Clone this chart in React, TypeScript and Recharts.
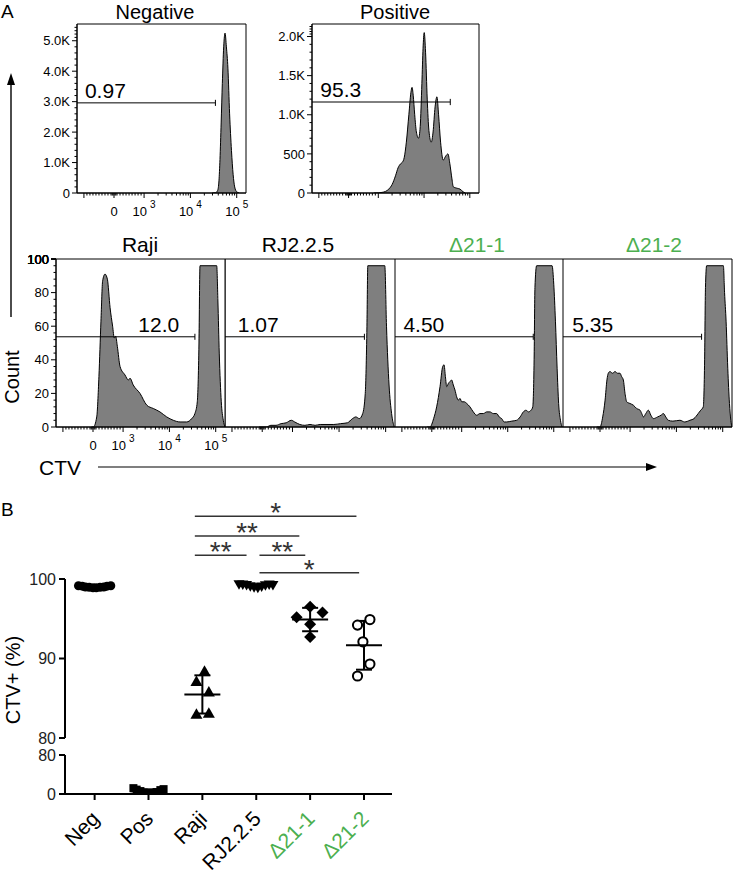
import React from 'react';
import {
  AreaChart, Area, XAxis, YAxis, ReferenceLine, ReferenceArea,
  ScatterChart, Scatter, ErrorBar,
} from 'recharts';

const FONT = '"Liberation Sans", Arial, Helvetica, sans-serif';
const GREEN = '#4caf50';
const FILL = '#7f7f7f';

// ---------------- Panel A: CTV histograms ----------------
// [display channel (0-1000 across the plot), count]
const negativeHist: [number, number][] = [
  [800, 0], [820, 10], [832, 80], [840, 400], [846, 1100], [853, 2300], [860, 3600],
  [868, 4800], [876, 5250], [884, 4800], [893, 4100], [903, 2600], [914, 1400],
  [924, 600], [933, 200], [945, 40], [960, 0],
];
const positiveHist: [number, number][] = [
  [370, 0], [399, 2], [420, 8], [440, 20], [460, 50], [480, 110], [500, 220], [515, 320],
  [529, 370], [540, 390], [552, 450], [565, 650], [580, 1000], [592, 1280], [599, 1350],
  [606, 1250], [615, 1000], [625, 780], [638, 700], [648, 850], [658, 1400], [665, 1850],
  [672, 2050], [680, 1800], [690, 1200], [700, 800], [714, 650], [725, 780], [737, 1100],
  [748, 1230], [758, 1000], [770, 650], [786, 420], [800, 470], [814, 500], [825, 380],
  [838, 180], [846, 80], [870, 60], [886, 50], [905, 15], [918, 0],
];
const rajiHist: [number, number][] = [
  [210, 0], [221, 0], [241, 6], [254, 30], [266, 63], [276, 87], [290, 91], [304, 88],
  [320, 71], [335, 60], [345, 53], [353, 54], [363, 48], [379, 36], [408, 31], [428, 28],
  [438, 29], [457, 25], [497, 20], [537, 13], [576, 11], [615, 9], [655, 6], [694, 4],
  [734, 3], [773, 3], [803, 5], [822, 8], [836, 15], [846, 50], [852, 96], [951, 96],
  [958, 75], [966, 44], [978, 15], [990, 4], [1000, 0],
];
const rj225Hist: [number, number][] = [
  [200, 0], [243, 0], [270, 1], [300, 1], [330, 2], [360, 2.5], [390, 4], [410, 3],
  [440, 1.5], [470, 1], [500, 1.5], [530, 1], [560, 1.5], [600, 1.5], [640, 1.5],
  [680, 2], [720, 2.5], [750, 5], [770, 6], [790, 5], [810, 8], [825, 20], [835, 60],
  [840, 96], [940, 96], [950, 60], [965, 25], [980, 8], [995, 0],
];
const d21_1Hist: [number, number][] = [
  [190, 0], [208, 0], [230, 5], [248, 12], [268, 24], [284, 36], [292, 37], [300, 30],
  [308, 24], [318, 26], [327, 27], [337, 28], [347, 25], [357, 22], [367, 18], [377, 16],
  [387, 17], [397, 15], [412, 15], [427, 14], [446, 12], [466, 9], [486, 7], [506, 8],
  [526, 8], [546, 9], [565, 9], [585, 8], [605, 8], [620, 6], [635, 5], [650, 3],
  [665, 3], [695, 3.5], [724, 4], [745, 6], [764, 9], [780, 10], [794, 9], [810, 10],
  [820, 12], [828, 40], [833, 83], [843, 96], [935, 96], [945, 85], [955, 63], [965, 35],
  [974, 14], [985, 4], [994, 0],
];
const d21_2Hist: [number, number][] = [
  [200, 0], [219, 0], [235, 6], [249, 16], [260, 28], [268, 32], [278, 33], [293, 32],
  [308, 33], [322, 32], [337, 32], [347, 30], [357, 28], [367, 20], [377, 15], [396, 14],
  [416, 13], [436, 11], [456, 10], [466, 8], [476, 6], [490, 8], [505, 10], [520, 7],
  [535, 5], [560, 6], [580, 7], [594, 8], [608, 6], [623, 4], [650, 3.5], [692, 4],
  [720, 3], [751, 4], [775, 5], [800, 8], [815, 10], [830, 12], [838, 40], [843, 83],
  [850, 96], [949, 96], [956, 80], [965, 63], [975, 35], [985, 14], [993, 4], [999, 0],
];

const histTitles = ['Negative', 'Positive', 'Raji', 'RJ2.2.5', 'Δ21-1', 'Δ21-2'];
const histTitleGreen = [false, false, false, false, true, true];
const gatePercents = ['0.97', '95.3', '12.0', '1.07', '4.50', '5.35'];
const gateLevels = [2960, 1163, 53.7, 53.7, 53.7, 53.7];
const gateEnds = [819, 828, 822, 820, 823, 820];
const gateLabelStarts = [47, 50, 487, 75, 50, 55];

const negYMajor = [0, 1000, 2000, 3000, 4000, 5000];
const posYMajor = [0, 500, 1000, 1500, 2000];
const pctYMajor = [0, 20, 40, 60, 80, 100];

// CTV axis (raw values) -> display channel
const toChannel = (v: number) =>
  Math.round((v <= 1000 ? 219 + 0.178 * v : 397 + 274 * Math.log10(v / 1000)) * 100) / 100;
const xMajorValues = [-1000, 0, 1000, 10000, 100000];
const xMajorLabels: [string, string][] = [['', ''], ['0', ''], ['10', '3'], ['10', '4'], ['10', '5']];
const xMinorValues: number[] = [];
for (let k = 1; k <= 9; k++) { xMinorValues.push(-100 * k, 100 * k); }
[-60, -30, 30, 60].forEach((v) => xMinorValues.push(v));
for (let k = 2; k <= 9; k++) { xMinorValues.push(k * 1000, k * 10000); }

const xTickInfo = new Map<number, { major: boolean; label?: [string, string] }>();
xMajorValues.forEach((v, i) => xTickInfo.set(toChannel(v), { major: true, label: xMajorLabels[i] }));
xMinorValues.forEach((v) => xTickInfo.set(toChannel(v), { major: false }));
const xTicks = Array.from(xTickInfo.keys()).sort((a, b) => a - b);

const minorBetween = (major: number[], parts: number) => {
  const out: number[] = [];
  for (let i = 0; i < major.length - 1; i++) {
    const step = (major[i + 1] - major[i]) / parts;
    for (let k = 1; k < parts; k++) out.push(major[i] + step * k);
  }
  return out;
};

const HistXTick = ({ x, y, payload, showLabels }: any) => {
  const info = xTickInfo.get(payload.value);
  const major = info?.major;
  const lab = info?.label;
  return (
    <g>
      <line x1={x} x2={x} y1={y} y2={y + (major ? 5 : 2.5)} stroke="#000" strokeWidth={1} />
      {showLabels && lab && lab[0] && (
        <text x={x} y={y + 23} textAnchor="middle" fontSize={13} fontFamily={FONT} fill="#000">
          {lab[0]}
          {lab[1] ? <tspan dx={3} dy={-8} fontSize={10}>{lab[1]}</tspan> : null}
        </text>
      )}
    </g>
  );
};

const HistYTick = ({ x, y, payload, majors, fmt }: any) => {
  const major = majors.includes(payload.value);
  return (
    <g>
      <line x1={x} x2={x - (major ? 5 : 2.5)} y1={y} y2={y} stroke="#000" strokeWidth={1} />
      {major && (
        <text x={x - 7} y={y} dy="0.36em" textAnchor="end" fontSize={13} fontFamily={FONT} fill="#000">
          {fmt(payload.value)}
        </text>
      )}
    </g>
  );
};

const fmtK = (v: number) => (v === 0 ? '0' : `${(v / 1000).toFixed(1)}K`);
const fmtPosK = (v: number) => (v === 0 ? '0' : v < 1000 ? String(v) : `${(v / 1000).toFixed(1)}K`);
const fmtPlain = (v: number) => String(v);

type HistProps = {
  idx: number;
  data: [number, number][];
  left: number; top: number; width: number; height: number;
  yAxisWidth: number; yMax: number; yMajor: number[]; yMinorParts: number;
  fmt: (v: number) => string; showXLabels: boolean;
  margin: { top: number; right: number; bottom: number; left: number };
  xAxisHeight: number; capHalf: number;
};

const Histogram = (p: HistProps) => {
  const rows = p.data.map(([x, y]) => ({ x, y }));
  const yTicks = [...p.yMajor, ...minorBetween([...p.yMajor, p.yMax], p.yMinorParts)]
    .filter((v) => v <= p.yMax)
    .sort((a, b) => a - b);
  const gy = gateLevels[p.idx];
  const ge = gateEnds[p.idx];
  const ls = gateLabelStarts[p.idx];
  const text = gatePercents[p.idx];
  return (
    <div style={{ position: 'absolute', left: p.left, top: p.top, width: p.width, height: p.height }}>
      <AreaChart width={p.width} height={p.height} data={rows} margin={p.margin}>
        <XAxis
          type="number" dataKey="x" domain={[0, 1000]} ticks={xTicks} interval={0}
          tickSize={0} tickMargin={0} tickLine={false} height={p.xAxisHeight}
          axisLine={{ stroke: '#000' }} allowDataOverflow
          tick={(tp: any) => <HistXTick {...tp} showLabels={p.showXLabels} />}
        />
        <YAxis
          type="number" domain={[0, p.yMax]} ticks={yTicks} interval={0} allowDataOverflow
          tickSize={0} tickMargin={0} tickLine={false} width={p.yAxisWidth || 0}
          hide={p.yAxisWidth === 0} axisLine={{ stroke: '#000' }}
          tick={(tp: any) => <HistYTick {...tp} majors={p.yMajor} fmt={p.fmt} />}
        />
        <Area
          type="monotone" dataKey="y" stroke="#000" strokeWidth={1} fill={FILL}
          fillOpacity={1} isAnimationActive={false} dot={false} activeDot={false}
        />
        <ReferenceArea
          x1={0} x2={1000} y1={0} y2={p.yMax} fill="none" fillOpacity={0}
          stroke="#000" strokeWidth={1} ifOverflow="visible"
        />
        <ReferenceLine
          segment={[{ x: 0, y: gy }, { x: ge, y: gy }]} stroke="#000" strokeWidth={1}
          ifOverflow="visible"
          label={(lp: any) => {
            const vb = lp.viewBox || {};
            const tx = vb.x + (vb.width * ls) / ge;
            return (
              <text x={tx} y={vb.y - 5} fontSize={21} fontFamily={FONT} fill="#000">{text}</text>
            );
          }}
        />
        <ReferenceLine
          segment={[{ x: ge, y: gy - p.capHalf }, { x: ge, y: gy + p.capHalf }]}
          stroke="#000" strokeWidth={1} ifOverflow="visible"
        />
      </AreaChart>
    </div>
  );
};

// ---------------- Panel B: CTV+ (%) dot plot ----------------
const groups = ['Neg', 'Pos', 'Raji', 'RJ2.2.5', 'Δ21-1', 'Δ21-2'];
const groupGreen = [false, false, false, false, true, true];

const negCTV = [99.15, 99.1, 99.0, 98.95, 98.9, 98.9, 98.95, 99.0, 99.1, 99.15];
const negSpread = [-0.3, -0.23, -0.17, -0.1, -0.03, 0.03, 0.1, 0.17, 0.23, 0.3];
const posCTV = [12, 9, 6, 3, 1, 0.5, 1.5, 4, 8, 10];
const posSpread = [-0.28, -0.22, -0.15, -0.09, -0.03, 0.03, 0.09, 0.15, 0.22, 0.28];
const rajiCTV = [88.4, 87.1, 85.8, 83.0, 83.1];
const rajiSpread = [0.04, -0.11, 0.12, -0.11, 0.12];
const rjCTV = [99.35, 99.3, 99.25, 99.1, 98.95, 98.9, 99.05, 99.2, 99.3, 99.25];
const rjSpread = [-0.32, -0.25, -0.18, -0.11, -0.04, 0.03, 0.1, 0.17, 0.24, 0.31];
const d1CTV = [96.5, 95.8, 95.2, 94.3, 92.7];
const d1Spread = [0, 0.23, -0.25, 0, 0];
const d2CTV = [94.9, 94.2, 92.1, 89.3, 87.8];
const d2Spread = [0.11, -0.12, -0.02, 0.11, -0.12];

const groupValues = [negCTV, posCTV, rajiCTV, rjCTV, d1CTV, d2CTV];
const groupSpread = [negSpread, posSpread, rajiSpread, rjSpread, d1Spread, d2Spread];

const brackets = [
  { from: 1.86, to: 4.86, y: 107.9, stars: '*' },
  { from: 1.86, to: 3.8, y: 105.4, stars: '**' },
  { from: 1.86, to: 2.82, y: 103.0, stars: '**' },
  { from: 3.06, to: 3.91, y: 103.0, stars: '**' },
  { from: 3.06, to: 4.91, y: 100.8, stars: '*' },
];

const mean = (a: number[]) => a.reduce((s, v) => s + v, 0) / a.length;
const sdev = (a: number[]) => {
  const m = mean(a);
  return Math.sqrt(a.reduce((s, v) => s + (v - m) * (v - m), 0) / (a.length - 1));
};

const shapes = [
  (c: any) => <circle cx={c.cx} cy={c.cy} r={4.5} fill="#000" />,
  (c: any) => <rect x={c.cx - 4} y={c.cy - 4} width={8} height={8} fill="#000" />,
  (c: any) => (
    <polygon points={`${c.cx},${c.cy - 6} ${c.cx - 6},${c.cy + 4.5} ${c.cx + 6},${c.cy + 4.5}`} fill="#000" />
  ),
  (c: any) => (
    <polygon points={`${c.cx - 5.5},${c.cy - 4} ${c.cx + 5.5},${c.cy - 4} ${c.cx},${c.cy + 5.5}`} fill="#000" />
  ),
  (c: any) => (
    <polygon points={`${c.cx},${c.cy - 6} ${c.cx + 6},${c.cy} ${c.cx},${c.cy + 6} ${c.cx - 6},${c.cy}`} fill="#000" />
  ),
  (c: any) => <circle cx={c.cx} cy={c.cy} r={4.6} fill="#fff" stroke="#000" strokeWidth={2} />,
];

const MeanLine = (c: any) => (
  <line x1={c.cx - 18} x2={c.cx + 18} y1={c.cy} y2={c.cy} stroke="#000" strokeWidth={2} />
);

const CategoryTick = ({ x, y, payload }: any) => {
  const i = Math.round(payload.value);
  const ax = x + 6;
  const ay = y + 20;
  return (
    <text
      x={ax} y={ay} transform={`rotate(-45 ${ax} ${ay})`} textAnchor="end"
      fontSize={21} fontFamily={FONT} fill={groupGreen[i] ? GREEN : '#000'}
    >
      {groups[i]}
    </text>
  );
};

const X_DOMAIN: [number, number] = [-0.55, 5.52];

const DotPlot = ({ low }: { low: boolean }) => {
  const inRange = (v: number) => (low ? v < 80 : v >= 80);
  const seriesPts = groupValues.map((vals, gi) =>
    vals.map((v, i) => ({ x: gi + groupSpread[gi][i], y: v })).filter((d) => inRange(d.y)),
  );
  const means = groupValues
    .map((vals, gi) => ({ x: gi, y: mean(vals), sd: sdev(vals) }))
    .filter((d) => inRange(d.y));
  const width = 400;
  const height = low ? 131 : 264;
  const margin = low
    ? { top: 10, right: 8, bottom: 0, left: 0 }
    : { top: 89, right: 8, bottom: 16, left: 0 };
  return (
    <div style={{ position: 'absolute', left: 0, top: low ? 745 : 490, width, height }}>
      <ScatterChart width={width} height={height} margin={margin}>
        <XAxis
          type="number" dataKey="x" domain={X_DOMAIN} ticks={[0, 1, 2, 3, 4, 5]} interval={0}
          allowDataOverflow hide={!low} height={low ? 82 : 0} tickSize={6} tickMargin={0}
          axisLine={{ stroke: '#000', strokeWidth: 2 }} tickLine={{ stroke: '#000', strokeWidth: 2 }}
          tick={(tp: any) => <CategoryTick {...tp} />}
        />
        <YAxis
          type="number" dataKey="y" domain={low ? [0, 80] : [80, 100]}
          ticks={low ? [0, 80] : [80, 90, 100]} interval={0} allowDataOverflow width={65}
          tickSize={6} tickMargin={3}
          axisLine={{ stroke: '#000', strokeWidth: 2 }} tickLine={{ stroke: '#000', strokeWidth: 2 }}
          tick={{ fontSize: 16, fill: '#222', fontFamily: FONT }}
        />
        {seriesPts.map((pts, gi) =>
          pts.length ? (
            <Scatter
              key={`g${gi}`} name={groups[gi]} data={pts} shape={shapes[gi]}
              isAnimationActive={false}
            />
          ) : null,
        )}
        {means.length ? (
          <Scatter name="mean" data={means} shape={MeanLine} isAnimationActive={false}>
            <ErrorBar dataKey="sd" direction="y" width={8} stroke="#000" strokeWidth={2} isAnimationActive={false} />
          </Scatter>
        ) : null}
        {!low &&
          brackets.map((b, i) => (
            <ReferenceLine
              key={`b${i}`} segment={[{ x: b.from, y: b.y }, { x: b.to, y: b.y }]}
              stroke="#333" strokeWidth={1.5} ifOverflow="visible"
              label={(lp: any) => {
                const vb = lp.viewBox || {};
                return (
                  <text
                    x={vb.x + vb.width / 2} y={vb.y + 6} textAnchor="middle" fontSize={28}
                    fontFamily={FONT} fill="#333"
                  >
                    {b.stars}
                  </text>
                );
              }}
            />
          ))}
      </ScatterChart>
    </div>
  );
};

const Annotations = () => (
  <svg
    width={733} height={876}
    style={{ position: 'absolute', left: 0, top: 0, pointerEvents: 'none' }}
    fontFamily={FONT}
  >
    <text x={1} y={18} fontSize={19} fill="#000">A</text>
    <text x={1} y={516} fontSize={19} fill="#000">B</text>
    <text x={155} y={19} fontSize={20} textAnchor="middle" fill="#000">{histTitles[0]}</text>
    <text x={395} y={19} fontSize={20} textAnchor="middle" fill="#000">{histTitles[1]}</text>
    {[140, 298, 477, 654].map((cx, i) => (
      <text
        key={i} x={cx} y={252} fontSize={21} textAnchor="middle"
        fill={histTitleGreen[i + 2] ? GREEN : '#000'}
      >
        {histTitles[i + 2]}
      </text>
    ))}
    <line x1={11} y1={317} x2={11} y2={82} stroke="#000" strokeWidth={1.4} />
    <polygon points="11,73 7,85 15,85" fill="#000" />
    <text x={19} y={377} transform="rotate(-90 19 377)" textAnchor="middle" fontSize={20} fill="#000">
      Count
    </text>
    <text x={39} y={475} fontSize={21} fill="#000">CTV</text>
    <line x1={98} y1={467} x2={648} y2={467} stroke="#000" strokeWidth={1.2} />
    <polygon points="657,467 646,463 646,471" fill="#000" />
    <text x={20} y={680} transform="rotate(-90 20 680)" textAnchor="middle" fontSize={20} fill="#000">
      CTV+ (%)
    </text>
  </svg>
);

export default function App() {
  const bottomMargin = { top: 9, right: 0, bottom: 0, left: 0 };
  return (
    <div
      style={{
        position: 'absolute', left: 0, top: 0, width: 733, height: 876,
        background: '#fff', fontFamily: FONT, overflow: 'hidden',
      }}
    >
      <Histogram
        idx={0} data={negativeHist} left={0} top={0} width={260} height={226}
        yAxisWidth={77} yMax={5550} yMajor={negYMajor} yMinorParts={5} fmt={fmtK}
        showXLabels margin={{ top: 24, right: 14, bottom: 0, left: 0 }} xAxisHeight={33} capHalf={100}
      />
      <Histogram
        idx={1} data={positiveHist} left={272} top={0} width={209} height={226}
        yAxisWidth={40} yMax={2160} yMajor={posYMajor} yMinorParts={5} fmt={fmtPosK}
        showXLabels={false} margin={{ top: 24, right: 2, bottom: 0, left: 0 }} xAxisHeight={33} capHalf={40}
      />
      <Histogram
        idx={2} data={rajiHist} left={0} top={250} width={241} height={207}
        yAxisWidth={56} yMax={100} yMajor={pctYMajor} yMinorParts={5} fmt={fmtPlain}
        showXLabels margin={{ top: 9, right: 16, bottom: 0, left: 0 }} xAxisHeight={30} capHalf={1.8}
      />
      <Histogram
        idx={3} data={rj225Hist} left={225} top={250} width={170} height={207}
        yAxisWidth={0} yMax={100} yMajor={pctYMajor} yMinorParts={5} fmt={fmtPlain}
        showXLabels={false} margin={bottomMargin} xAxisHeight={30} capHalf={1.8}
      />
      <Histogram
        idx={4} data={d21_1Hist} left={395} top={250} width={168} height={207}
        yAxisWidth={0} yMax={100} yMajor={pctYMajor} yMinorParts={5} fmt={fmtPlain}
        showXLabels={false} margin={bottomMargin} xAxisHeight={30} capHalf={1.8}
      />
      <Histogram
        idx={5} data={d21_2Hist} left={563} top={250} width={170} height={207}
        yAxisWidth={0} yMax={100} yMajor={pctYMajor} yMinorParts={5} fmt={fmtPlain}
        showXLabels={false} margin={{ top: 9, right: 1, bottom: 0, left: 0 }} xAxisHeight={30} capHalf={1.8}
      />
      <DotPlot low={false} />
      <DotPlot low />
      <Annotations />
    </div>
  );
}
